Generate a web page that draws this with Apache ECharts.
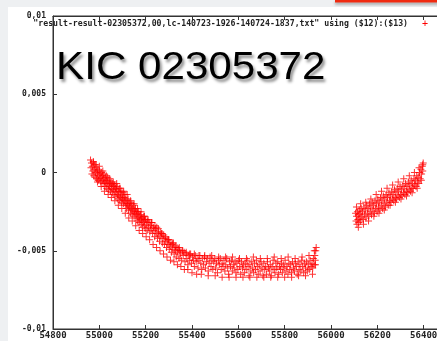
<!DOCTYPE html>
<html><head><meta charset="utf-8">
<script src="https://cdn.jsdelivr.net/npm/echarts@6/dist/echarts.min.js"></script>
<style>html,body{margin:0;padding:0;background:#eef0f2;}#c{width:437px;height:341px;}</style>
</head><body><div id="c"></div>
<script>
const keyLabel = '"result-result-02305372,00,lc-140723-1926-140724-1837,txt" using ($12):($13)';
const titleText = 'KIC 02305372';
const xTicks = [54800, 55000, 55200, 55400, 55600, 55800, 56000, 56200, 56400, 56600];
const xTickLabels = ['54800','55000','55200','55400','55600','55800','56000','56200','56400','56600'];
const yTicks = [-0.01, -0.005, 0, 0.005, 0.01];
const yTickLabels = ['-0,01', '-0,005', '0', '0,005', '0,01'];

const seg1X = [54962,54964,54966,54968,54970,54972,54974,54976,54978,54980,54982,54984,54986,54988,54990,54992,54994,54996,54998,55000,
55002,55004,55006,55008,55010,55012,55014,55016,55018,55020,55022,55024,55026,55028,55030,55032,55034,55036,55038,55040,
55042,55044,55046,55048,55050,55052,55054,55056,55058,55060,55062,55064,55066,55068,55070,55072,55074,55076,55078,55080,
55082,55084,55086,55088,55090,55092,55094,55096,55098,55100,55102,55104,55106,55108,55110,55112,55114,55116,55118,55120,
55122,55124,55126,55128,55130,55132,55134,55136,55138,55140,55142,55144,55146,55148,55150,55152,55154,55156,55158,55160,
55162,55164,55166,55168,55170,55172,55174,55176,55178,55180,55182,55184,55186,55188,55190,55192,55194,55196,55198,55200,
55203,55206,55209,55212,55215,55218,55221,55224,55227,55230,55233,55236,55239,55242,55245,55248,55251,55254,55257,55260,
55263,55266,55269,55272,55275,55278,55281,55284,55287,55290,55293,55296,55299,55302,55305,55308,55311,55314,55317,55320,
55323,55326,55329,55332,55335,55338,55341,55344,55347,55350,55354,55358,55362,55366,55370,55374,55378,55382,55386,55390,
55394,55398,55402,55406,55410,55414,55418,55422,55426,55430,55434,55438,55442,55446,55450,55454,55458,55462,55466,55470,
55474,55478,55482,55486,55490,55494,55498,55502,55506,55510,55514,55518,55522,55526,55530,55534,55538,55542,55546,55550,
55554,55558,55562,55566,55570,55574,55578,55582,55586,55590,55594,55598,55602,55606,55610,55614,55618,55622,55626,55630,
55634,55638,55642,55646,55650,55654,55658,55662,55666,55670,55674,55678,55682,55686,55690,55694,55698,55702,55706,55710,
55714,55718,55722,55726,55730,55734,55738,55742,55746,55750,55754,55758,55762,55766,55770,55774,55778,55782,55786,55790,
55794,55798,55802,55806,55810,55814,55818,55822,55826,55830,55834,55838,55842,55846,55850,55854,55858,55862,55866,55870,
55874,55878,55882,55886,55890,55894,55898,55902,55906,55910,55914,55918,55921,55924,55927,55930,55932,55934,55936];
const seg1Y = [0.0008,0.0003,0.0006,-0.0001,0.0004,0.0001,0.0007,-0.0002,0.0002,0.0005,-0.0003,0.0000,0.0003,-0.0004,0.0001,-0.0001,0.0002,-0.0005,-0.0002,0.0001,
-0.0004,-0.0001,-0.0006,-0.0003,0.0000,-0.0005,-0.0002,-0.0007,-0.0004,-0.0001,-0.0006,-0.0009,-0.0003,-0.0007,-0.0005,-0.0010,-0.0006,-0.0003,-0.0008,-0.0011,
-0.0005,-0.0009,-0.0007,-0.0012,-0.0006,-0.0010,-0.0008,-0.0013,-0.0007,-0.0011,-0.0009,-0.0014,-0.0008,-0.0012,-0.0010,-0.0015,-0.0011,-0.0009,-0.0014,-0.0017,
-0.0012,-0.0015,-0.0010,-0.0018,-0.0013,-0.0016,-0.0012,-0.0019,-0.0015,-0.0017,-0.0013,-0.0020,-0.0016,-0.0018,-0.0014,-0.0021,-0.0017,-0.0020,-0.0023,-0.0018,
-0.0021,-0.0017,-0.0024,-0.0020,-0.0022,-0.0019,-0.0026,-0.0022,-0.0024,-0.0020,-0.0027,-0.0023,-0.0025,-0.0021,-0.0028,-0.0024,-0.0026,-0.0023,-0.0029,-0.0025,
-0.0027,-0.0031,-0.0026,-0.0029,-0.0025,-0.0032,-0.0028,-0.0030,-0.0027,-0.0033,-0.0029,-0.0031,-0.0035,-0.0029,-0.0032,-0.0028,-0.0034,-0.0031,-0.0036,-0.0030,
-0.0033,-0.0037,-0.0031,-0.0035,-0.0032,-0.0038,-0.0034,-0.0036,-0.0032,-0.0039,-0.0035,-0.0037,-0.0041,-0.0036,-0.0039,-0.0035,-0.0042,-0.0038,-0.0040,-0.0044,
-0.0038,-0.0041,-0.0039,-0.0045,-0.0042,-0.0040,-0.0046,-0.0042,-0.0044,-0.0048,-0.0043,-0.0046,-0.0043,-0.0049,-0.0045,-0.0047,-0.0051,-0.0046,-0.0049,-0.0045,
-0.0052,-0.0048,-0.0050,-0.0054,-0.0048,-0.0051,-0.0049,-0.0055,-0.0050,-0.0052,-0.0056,-0.0050,-0.0053,-0.0051,-0.0057,-0.0052,-0.0055,-0.0059,-0.0053,-0.0056,
-0.0052,-0.0058,-0.0054,-0.0056,-0.0060,-0.0053,-0.0057,-0.0055,-0.0061,-0.0056,-0.0053,-0.0058,-0.0062,-0.0055,-0.0059,-0.0054,-0.0061,-0.0057,-0.0055,-0.0063,
-0.0058,-0.0054,-0.0060,-0.0056,-0.0062,-0.0057,-0.0055,-0.0061,-0.0058,-0.0064,-0.0056,-0.0059,-0.0055,-0.0062,-0.0058,-0.0060,-0.0056,-0.0063,-0.0059,-0.0055,
-0.0061,-0.0065,-0.0057,-0.0060,-0.0056,-0.0063,-0.0059,-0.0061,-0.0057,-0.0064,-0.0058,-0.0062,-0.0056,-0.0060,-0.0065,-0.0057,-0.0061,-0.0059,-0.0064,-0.0058,
-0.0062,-0.0056,-0.0060,-0.0066,-0.0059,-0.0063,-0.0057,-0.0061,-0.0064,-0.0058,-0.0062,-0.0056,-0.0060,-0.0065,-0.0059,-0.0063,-0.0057,-0.0061,-0.0066,-0.0058,
-0.0062,-0.0060,-0.0065,-0.0057,-0.0061,-0.0063,-0.0059,-0.0066,-0.0060,-0.0056,-0.0062,-0.0064,-0.0058,-0.0061,-0.0057,-0.0065,-0.0060,-0.0062,-0.0058,-0.0064,
-0.0059,-0.0061,-0.0056,-0.0063,-0.0060,-0.0065,-0.0058,-0.0062,-0.0059,-0.0064,-0.0057,-0.0061,-0.0063,-0.0058,-0.0060,-0.0065,-0.0057,-0.0062,-0.0059,-0.0063,
-0.0056,-0.0060,-0.0064,-0.0058,-0.0061,-0.0057,-0.0063,-0.0059,-0.0062,-0.0056,-0.0060,-0.0058,-0.0061,-0.0055,-0.0059,-0.0053,-0.0056,-0.0050,-0.0048];

// outer strand of the first segment (points lying at the edges of the band)
const seg1EdgeX = [54975,54985,54992,55000,55008,55015,55022,55030,55038,55045,55052,55060,55067,55075,55082,55090,55097,55105,55112,55120,
55127,55135,55142,55150,55157,55165,55172,55180,55187,55195,55202,55210,55217,55225,55232,55240,55247,55255,55262,55270,
55277,55285,55292,55300,55307,55315,55322,55330,55337,55345,55352,55360,55367,55375,55382,55390,55400,55410,55420,55430,
55440,55455,55470,55485,55500,55515,55530,55545,55560,55575,55590,55605,55620,55635,55650,55665,55680,55695,55710,55725,
55740,55755,55770,55785,55800,55815,55830,55845,55860,55875,55890,55905,55920,55928,55933];
const seg1EdgeY = [0.0006,0.0005,-0.0006,0.0004,-0.0009,0.0001,-0.0012,-0.0002,-0.0014,-0.0004,-0.0016,-0.0006,-0.0018,-0.0007,-0.0021,-0.0010,-0.0023,-0.0012,-0.0026,-0.0014,
-0.0029,-0.0018,-0.0031,-0.0020,-0.0034,-0.0023,-0.0037,-0.0025,-0.0039,-0.0028,-0.0041,-0.0030,-0.0043,-0.0032,-0.0046,-0.0034,-0.0048,-0.0036,-0.0050,-0.0039,
-0.0052,-0.0041,-0.0054,-0.0043,-0.0056,-0.0045,-0.0057,-0.0047,-0.0059,-0.0048,-0.0060,-0.0050,-0.0062,-0.0051,-0.0062,-0.0052,-0.0064,-0.0052,-0.0065,-0.0053,
-0.0065,-0.0053,-0.0066,-0.0053,-0.0066,-0.0054,-0.0067,-0.0054,-0.0067,-0.0054,-0.0067,-0.0055,-0.0067,-0.0055,-0.0067,-0.0054,-0.0067,-0.0055,-0.0067,-0.0055,
-0.0067,-0.0054,-0.0067,-0.0055,-0.0067,-0.0054,-0.0067,-0.0055,-0.0066,-0.0054,-0.0066,-0.0053,-0.0065,-0.0050,-0.0059];

const seg2X = [56106,56108,56110,56112,56114,56116,56118,56120,56122,56124,56126,56128,56130,56133,56136,56139,56142,56145,56148,56151,
56154,56157,56160,56163,56166,56169,56172,56175,56178,56181,56184,56187,56190,56193,56196,56199,56202,56205,56208,56211,
56214,56217,56220,56223,56226,56229,56232,56235,56238,56241,56244,56247,56250,56253,56256,56259,56262,56265,56268,56271,
56274,56277,56280,56283,56286,56289,56292,56295,56298,56301,56304,56307,56310,56313,56316,56319,56322,56325,56328,56331,
56334,56337,56340,56343,56346,56349,56352,56355,56358,56361,56364,56367,56370,56373,56376,56379,56382,56385,56388,56391,
56394,56396,56398];
const seg2Y = [-0.0026,-0.0031,-0.0028,-0.0033,-0.0025,-0.0030,-0.0027,-0.0032,-0.0024,-0.0029,-0.0026,-0.0031,-0.0023,-0.0028,-0.0025,-0.0030,-0.0022,-0.0027,-0.0024,-0.0029,
-0.0021,-0.0026,-0.0023,-0.0028,-0.0020,-0.0025,-0.0022,-0.0027,-0.0019,-0.0024,-0.0021,-0.0026,-0.0018,-0.0023,-0.0020,-0.0025,-0.0017,-0.0022,-0.0019,-0.0024,
-0.0016,-0.0021,-0.0018,-0.0023,-0.0015,-0.0020,-0.0017,-0.0022,-0.0014,-0.0019,-0.0016,-0.0021,-0.0013,-0.0018,-0.0015,-0.0019,-0.0012,-0.0017,-0.0014,-0.0018,
-0.0011,-0.0016,-0.0013,-0.0017,-0.0010,-0.0015,-0.0012,-0.0016,-0.0009,-0.0014,-0.0011,-0.0015,-0.0008,-0.0013,-0.0010,-0.0014,-0.0007,-0.0012,-0.0009,-0.0013,
-0.0006,-0.0011,-0.0008,-0.0012,-0.0005,-0.0010,-0.0007,-0.0010,-0.0004,-0.0008,-0.0005,-0.0009,-0.0002,-0.0006,-0.0003,-0.0007,0.0000,-0.0004,0.0002,-0.0001,
0.0004,0.0001,0.0006];

const seg2EdgeX = [56110,56118,56128,56140,56150,56162,56172,56185,56195,56207,56218,56230,56242,56255,56266,56278,56290,56302,56314,56326,
56338,56350,56360,56372,56380,56390,56396];
const seg2EdgeY = [-0.0022,-0.0035,-0.0020,-0.0033,-0.0019,-0.0031,-0.0017,-0.0028,-0.0014,-0.0026,-0.0012,-0.0024,-0.0010,-0.0021,-0.0008,-0.0019,-0.0006,-0.0017,-0.0004,-0.0015,
-0.0002,-0.0013,0.0000,-0.0010,0.0003,-0.0005,0.0005];

const plusPath = 'path://M0,3H7V4H0Z M3,0H4V7H3Z';
const seriesColor = '#ff0000';
const pairs = (xs, ys) => xs.map((x, i) => [x, ys[i]]);
const allData = pairs(seg1X, seg1Y).concat(pairs(seg1EdgeX, seg1EdgeY), pairs(seg2X, seg2Y), pairs(seg2EdgeX, seg2EdgeY));

const monoFont = '"DejaVu Sans Mono", "Liberation Mono", monospace';
const chart = echarts.init(document.getElementById('c'), null, {renderer: 'canvas'});
chart.setOption({
  backgroundColor: '#eef0f2',
  animation: false,
  graphic: [
    {type: 'rect', z: -10, shape: {x: 8, y: 7, width: 440, height: 340}, style: {fill: '#ffffff'}},
    {type: 'rect', z: 10, shape: {x: 335, y: 0, width: 110, height: 2.5},
      style: {fill: '#f02a10', shadowColor: 'rgba(0,0,0,0.35)', shadowBlur: 3, shadowOffsetY: 2}},
    {type: 'text', z: 10, x: 408, y: 24,
      style: {text: keyLabel, align: 'right', verticalAlign: 'middle', font: 'bold 8.2px ' + monoFont, fill: '#222'}},
    {type: 'text', z: 10, x: 425, y: 24,
      style: {text: '+', align: 'center', verticalAlign: 'middle', font: '10px ' + monoFont, fill: '#ff0000'}},
    {type: 'text', z: 10, x: 61, y: 68, scaleX: 1.08, originX: 61, originY: 68,
      style: {text: titleText, align: 'left', verticalAlign: 'middle', font: '39px "Liberation Sans", Arial, sans-serif',
        fill: '#000', textShadowColor: 'rgba(0,0,0,0.45)', textShadowBlur: 3, textShadowOffsetX: 2, textShadowOffsetY: 3}}
  ],
  grid: {left: 53, top: 16, width: 417, height: 313, containLabel: false, outerBoundsMode: 'none',
    show: true, borderColor: '#333', borderWidth: 1, backgroundColor: 'transparent'},
  xAxis: [
    {type: 'value', min: xTicks[0], max: xTicks[xTicks.length - 1], interval: 200, position: 'bottom',
      axisLine: {show: true, onZero: false, lineStyle: {color: '#333', width: 1}},
      axisTick: {show: true, inside: true, length: 4, lineStyle: {color: '#333'}},
      axisLabel: {margin: 2, color: '#222', fontSize: 9, fontWeight: 'bold', fontFamily: monoFont, hideOverlap: false,
        formatter: v => { const i = xTicks.indexOf(v); return i >= 0 ? xTickLabels[i] : ''; }},
      splitLine: {show: false}},
    {type: 'value', min: xTicks[0], max: xTicks[xTicks.length - 1], interval: 200, position: 'top',
      axisLine: {show: true, onZero: false, lineStyle: {color: '#333', width: 1}},
      axisTick: {show: true, inside: true, length: 4, lineStyle: {color: '#333'}},
      axisLabel: {show: false}, splitLine: {show: false}}
  ],
  yAxis: {type: 'value', min: -0.01, max: 0.01, interval: 0.005,
    axisLine: {show: true, onZero: false, lineStyle: {color: '#333', width: 1}},
    axisTick: {show: true, inside: true, length: 4, lineStyle: {color: '#333'}},
    axisLabel: {margin: 7, color: '#222', fontSize: 8, fontWeight: 'bold', fontFamily: monoFont,
      formatter: v => { let best = 0, d = Infinity; yTicks.forEach((t, i) => { if (Math.abs(t - v) < d) { d = Math.abs(t - v); best = i; } }); return yTickLabels[best]; }},
    splitLine: {show: false}},
  series: [
    {type: 'scatter', name: 'lc', xAxisIndex: 0, data: allData, symbol: plusPath, symbolSize: 7,
      itemStyle: {color: seriesColor}, silent: true}
  ]
});
</script>
</body></html>
